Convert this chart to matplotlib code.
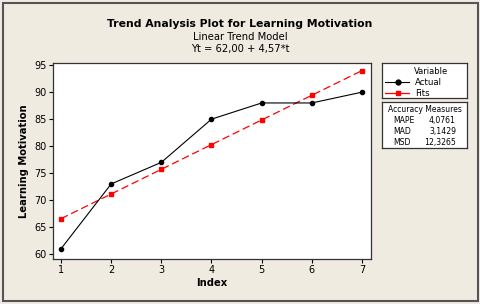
import numpy as np
import matplotlib.pyplot as plt
from matplotlib.patches import Rectangle

index = [1, 2, 3, 4, 5, 6, 7]
actual = [61, 73, 77, 85, 88, 88, 90]
fits = [66.57, 71.14, 75.71, 80.28, 84.85, 89.42, 93.99]
yticks = [60, 65, 70, 75, 80, 85, 90, 95]
measures = ["MAPE", "MAD", "MSD"]
measure_vals = ["4,0761", "3,1429", "12,3265"]

W, H = 480, 304
bg = "#EFEBE1"

fig = plt.figure(figsize=(4.8, 3.04), dpi=100, facecolor=bg)

# outer frame
fig.patches.append(Rectangle((2.5 / W, 3 / H), 475 / W, 298 / H, transform=fig.transFigure,
                             fill=False, edgecolor="#555555", linewidth=1.5))

fig.text(0.5, 1 - 24 / H, "Trend Analysis Plot for Learning Motivation",
         ha="center", va="center", fontsize=7.8, fontweight="bold")
fig.text(0.5, 1 - 37 / H, "Linear Trend Model", ha="center", va="center", fontsize=7.2)
fig.text(0.5, 1 - 49 / H, "Yt = 62,00 + 4,57*t", ha="center", va="center", fontsize=7.2)

ax = fig.add_axes([53 / W, 1 - 259 / H, 318 / W, 196 / H])
ax.set_facecolor("white")
ax.plot(index, fits, color="red", linestyle=(0, (6, 3)), linewidth=0.9,
        marker="s", markersize=3)
ax.plot(index, actual, color="black", linewidth=0.8, marker="o", markersize=3)
ax.set_xlim(0.84, 7.18)
ax.set_ylim(59.1, 95.4)
ax.set_xticks(index)
ax.set_yticks(yticks)
ax.tick_params(labelsize=7, length=3, width=0.8, pad=1.5)
for s in ax.spines.values():
    s.set_color("#333333")
    s.set_linewidth(0.9)
ax.set_xlabel("Index", fontsize=7.2, fontweight="bold", labelpad=2)
ax.set_ylabel("Learning Motivation", fontsize=7.2, fontweight="bold", labelpad=4)

# legend box
lg = fig.add_axes([382 / W, 1 - 98 / H, 85 / W, 35 / H])
lg.set_facecolor("white")
lg.set_xticks([])
lg.set_yticks([])
lg.set_xlim(0, 85)
lg.set_ylim(35, 0)
for s in lg.spines.values():
    s.set_color("#333333")
    s.set_linewidth(0.9)
lg.text(49, 8, "Variable", ha="center", va="center", fontsize=6)
lg.plot([3, 27], [19, 19], color="black", linewidth=0.8)
lg.plot([16], [19], color="black", marker="o", markersize=3.5)
lg.text(33, 19, "Actual", va="center", fontsize=6.2)
lg.plot([3, 27], [30, 30], color="red", linewidth=0.9)
lg.plot([16], [30], color="red", marker="s", markersize=3.5)
lg.text(33, 30, "Fits", va="center", fontsize=6.2)

# accuracy box
ac = fig.add_axes([382 / W, 1 - 148 / H, 85 / W, 46 / H])
ac.set_facecolor("white")
ac.set_xticks([])
ac.set_yticks([])
ac.set_xlim(0, 85)
ac.set_ylim(46, 0)
for s in ac.spines.values():
    s.set_color("#333333")
    s.set_linewidth(0.9)
ac.text(42.5, 7, "Accuracy Measures", ha="center", va="center", fontsize=5.5)
for i, (m, v) in enumerate(zip(measures, measure_vals)):
    ac.text(11, 18 + i * 11, m, va="center", fontsize=5.6)
    ac.text(74, 18 + i * 11, v, va="center", ha="right", fontsize=5.6)

fig.savefig("out.png", dpi=100, facecolor=bg)
